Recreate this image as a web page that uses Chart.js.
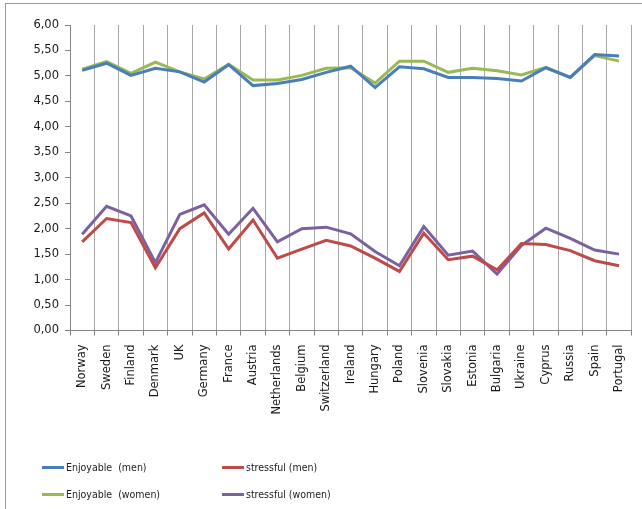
<!DOCTYPE html>
<html>
<head>
<meta charset="utf-8">
<script src="https://cdn.jsdelivr.net/npm/chart.js@4/dist/chart.umd.min.js"></script>
<style>
  html, body { margin: 0; padding: 0; background: #fff; }
  #wrap { position: relative; width: 642px; height: 509px; overflow: hidden; }
  #frame { position: absolute; left: 5px; top: 3px; width: 700px; height: 600px;
           border-top: 1px solid #9a9a9a; border-left: 1px solid #9a9a9a; }
  #chart { position: absolute; left: 0; top: 0; }
  .leg { position: absolute; height: 14px; display: flex; align-items: center;
         font-family: "DejaVu Sans Condensed", "Liberation Sans Narrow", "Liberation Sans", sans-serif;
         font-stretch: condensed; font-size: 10.5px; color: #222; white-space: pre; }
  .leg i { display: inline-block; width: 22px; height: 3px; margin-right: 2px; }
</style>
</head>
<body>
<div id="wrap">
  <div id="frame"></div>
  <canvas id="chart" width="642" height="509"></canvas>
  <div id="legend"></div>
</div>
<script>
// Countries along the category axis
const countries = ["Norway", "Sweden", "Finland", "Denmark", "UK", "Germany", "France", "Austria",
  "Netherlands", "Belgium", "Switzerland", "Ireland", "Hungary", "Poland", "Slovenia", "Slovakia",
  "Estonia", "Bulgaria", "Ukraine", "Cyprus", "Russia", "Spain", "Portugal"];

// Mean ratings per country
const enjoyableMen   = [5.11, 5.25, 5.01, 5.15, 5.08, 4.88, 5.22, 4.81, 4.85, 4.93, 5.07, 5.19,
  4.77, 5.18, 5.14, 4.97, 4.97, 4.95, 4.90, 5.16, 4.97, 5.42, 5.39];
const stressfulMen   = [1.74, 2.20, 2.12, 1.23, 2.00, 2.31, 1.60, 2.17, 1.42, 1.60, 1.77, 1.66,
  1.42, 1.16, 1.91, 1.39, 1.46, 1.19, 1.71, 1.69, 1.57, 1.37, 1.27];
const enjoyableWomen = [5.13, 5.28, 5.05, 5.27, 5.08, 4.94, 5.23, 4.92, 4.92, 5.01, 5.15, 5.16,
  4.86, 5.29, 5.29, 5.07, 5.15, 5.10, 5.02, 5.17, 4.97, 5.40, 5.29];
const stressfulWomen = [1.89, 2.44, 2.25, 1.33, 2.28, 2.47, 1.89, 2.40, 1.74, 2.00, 2.03, 1.90,
  1.55, 1.27, 2.04, 1.48, 1.56, 1.11, 1.67, 2.01, 1.81, 1.58, 1.50];

// Value axis ticks
const yTicks = [0, 0.5, 1, 1.5, 2, 2.5, 3, 3.5, 4, 4.5, 5, 5.5, 6];

const series = [
  { label: "Enjoyable  (men)",   data: enjoyableMen,   color: "#4a7ebb" },
  { label: "stressful (men)",    data: stressfulMen,   color: "#be4b48" },
  { label: "Enjoyable  (women)", data: enjoyableWomen, color: "#98b954" },
  { label: "stressful (women)",  data: stressfulWomen, color: "#7d60a0" }
];

const tickFont = { family: "DejaVu Sans", size: 11.5 };

const chart = new Chart(document.getElementById("chart"), {
  type: "line",
  data: {
    labels: countries,
    datasets: series.map(s => ({
      label: s.label,
      data: s.data,
      borderColor: s.color,
      backgroundColor: s.color,
      borderWidth: 3,
      pointRadius: 0,
      tension: 0,
      fill: false
    }))
  },
  options: {
    responsive: false,
    animation: false,
    devicePixelRatio: 1,
    layout: { padding: { top: 25, right: 7, left: 0, bottom: 0 } },
    plugins: { legend: { display: false }, tooltip: { enabled: false } },
    scales: {
      x: {
        type: "category",
        offset: true,
        grid: { offset: true, color: "#a8a8a8", tickColor: "#868686", tickLength: 5, lineWidth: 1 },
        border: { color: "#868686" },
        ticks: { minRotation: 90, maxRotation: 90, autoSkip: false, padding: 9,
                 color: "#1a1a1a", font: tickFont },
        afterFit: s => { s.height = 178.5; }
      },
      y: {
        min: 0, max: 6,
        afterBuildTicks: s => { s.ticks = yTicks.map(v => ({ value: v })); },
        grid: { drawOnChartArea: false, tickColor: "#868686", tickLength: 5 },
        border: { color: "#868686" },
        ticks: { padding: 6, color: "#1a1a1a", font: tickFont,
                 callback: v => v.toFixed(2).replace(".", ",") },
        afterFit: s => { s.width = 70; }
      }
    }
  }
});

// Two-column legend under the plot
const legendPos = [[42, 460], [222, 460], [42, 487], [222, 487]];
const legend = document.getElementById("legend");
chart.data.datasets.forEach((ds, i) => {
  const item = document.createElement("div");
  item.className = "leg";
  item.style.left = legendPos[i][0] + "px";
  item.style.top = legendPos[i][1] + "px";
  const sw = document.createElement("i");
  sw.style.background = ds.borderColor;
  item.appendChild(sw);
  item.appendChild(document.createTextNode(ds.label));
  legend.appendChild(item);
});
</script>
</body>
</html>
